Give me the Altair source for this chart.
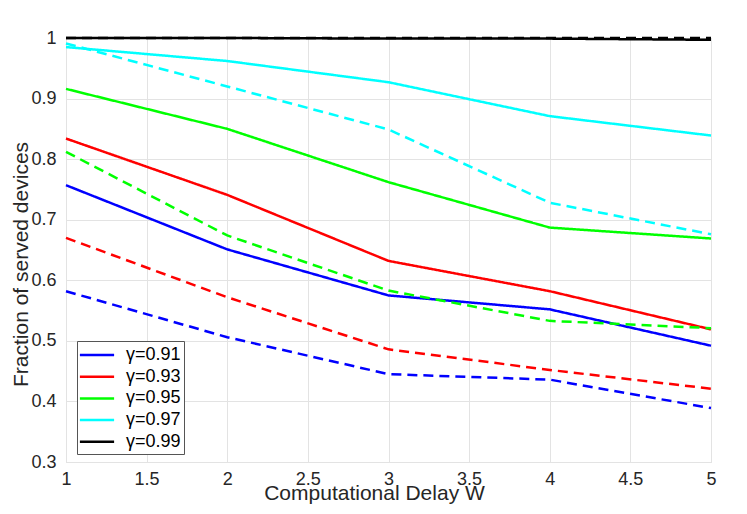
import altair as alt
import pandas as pd

delays = [1, 2, 3, 4, 5]
gammas = ["γ=0.91", "γ=0.93", "γ=0.95", "γ=0.97", "γ=0.99"]
colors = ["#0000ff", "#ff0000", "#00ff00", "#00ffff", "#000000"]

solid_091 = [0.757, 0.651, 0.575, 0.552, 0.492]
solid_093 = [0.834, 0.741, 0.632, 0.582, 0.519]
solid_095 = [0.916, 0.850, 0.762, 0.687, 0.669]
solid_097 = [0.985, 0.962, 0.927, 0.871, 0.839]
solid_099 = [1.000, 1.000, 0.999, 0.999, 0.997]

dashed_091 = [0.582, 0.506, 0.445, 0.436, 0.389]
dashed_093 = [0.670, 0.572, 0.486, 0.452, 0.421]
dashed_095 = [0.812, 0.674, 0.583, 0.533, 0.521]
dashed_097 = [0.991, 0.920, 0.849, 0.728, 0.676]
dashed_099 = [1.000, 1.000, 1.000, 1.000, 1.000]

x_ticks = [1, 1.5, 2, 2.5, 3, 3.5, 4, 4.5, 5]
y_ticks = [0.3, 0.4, 0.5, 0.6, 0.7, 0.8, 0.9, 1.0]

solids = [solid_091, solid_093, solid_095, solid_097, solid_099]
dashes = [dashed_091, dashed_093, dashed_095, dashed_097, dashed_099]

rows = []
for g, vals in zip(gammas, solids):
    for x, v in zip(delays, vals):
        rows.append({"W": x, "frac": v, "gamma": g, "style": "solid", "series": g + "_s"})
for g, vals in zip(gammas, dashes):
    for x, v in zip(delays, vals):
        rows.append({"W": x, "frac": v, "gamma": g, "style": "dashed", "series": g + "_d"})
df = pd.DataFrame(rows)

FONT = "Liberation Sans"
TXT = "#262626"

chart = alt.Chart(df).mark_line(strokeWidth=2.5, clip=False).encode(
    x=alt.X("W:Q",
            scale=alt.Scale(domain=[1, 5], nice=False, zero=False),
            axis=alt.Axis(values=x_ticks, format=".1~f", title="Computational Delay W",
                          grid=True, gridColor="#e3e3e3", ticks=False, domain=False,
                          labelFont=FONT, labelFontSize=18, labelColor=TXT, labelPadding=8,
                          labelFlush=False,
                          titleFont=FONT, titleFontSize=21, titleColor=TXT, titleFontWeight="normal",
                          titleX=308, titleY=37, titleBaseline="alphabetic")),
    y=alt.Y("frac:Q",
            scale=alt.Scale(domain=[0.3, 1.0], nice=False, zero=False),
            axis=alt.Axis(values=y_ticks, format=".1~f", title="Fraction of served devices",
                          grid=True, gridColor="#e3e3e3", ticks=False, domain=False,
                          labelFont=FONT, labelFontSize=18, labelColor=TXT, labelPadding=10,
                          labelFlush=False,
                          titleFont=FONT, titleFontSize=21, titleColor=TXT, titleFontWeight="normal",
                          titleX=-39, titleY=226, titleAngle=270, titleBaseline="alphabetic")),
    color=alt.Color("gamma:N",
                    scale=alt.Scale(domain=gammas, range=colors),
                    legend=alt.Legend(title=None, orient="none", legendX=11, legendY=303,
                                      symbolType="M-1.8,0L1.8,0", symbolSize=361,
                                      symbolStrokeWidth=2.5, symbolOffset=6,
                                      labelFont=FONT, labelFontSize=18, labelColor="#000000",
                                      labelOffset=18, rowPadding=1.7, padding=3,
                                      strokeColor="#555555", fillColor="#ffffff")),
    strokeDash=alt.StrokeDash("style:N",
                              scale=alt.Scale(domain=["solid", "dashed"], range=[[1, 0], [10, 6]]),
                              legend=None),
    detail="series:N",
).properties(
    width=645, height=424,
    autosize=alt.AutoSizeParams(type="none"),
    padding={"left": 58, "top": 30, "right": 28, "bottom": 44},
).configure_view(
    stroke="#333333", strokeWidth=1
).configure(background="#ffffff")

chart.save("out.html", embed_options={"renderer": "svg", "actions": False})
